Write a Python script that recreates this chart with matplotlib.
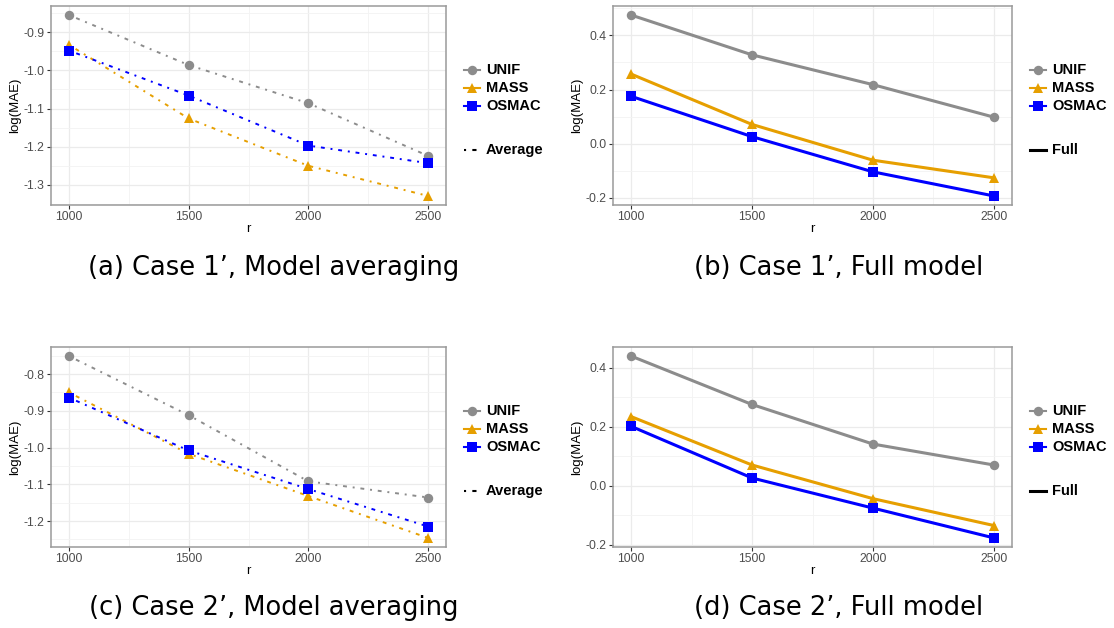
import matplotlib
matplotlib.use("Agg")
import matplotlib.pyplot as plt
from matplotlib.lines import Line2D

plt.rcParams['axes.unicode_minus'] = False
plt.rcParams['font.family'] = ['Liberation Sans', 'DejaVu Sans']

# sample sizes
r_vals = [1000, 1500, 2000, 2500]
metody = ["UNIF", "MASS", "OSMAC"]

# log(MAE), Case 1', model averaging
c1_avg_unif = [-0.855, -0.986, -1.086, -1.224]
c1_avg_mass = [-0.933, -1.126, -1.250, -1.329]
c1_avg_osmac = [-0.948, -1.066, -1.197, -1.243]

# log(MAE), Case 1', full model
c1_full_unif = [0.475, 0.328, 0.218, 0.098]
c1_full_mass = [0.257, 0.071, -0.061, -0.126]
c1_full_osmac = [0.175, 0.026, -0.104, -0.193]

# log(MAE), Case 2', model averaging
c2_avg_unif = [-0.751, -0.912, -1.092, -1.136]
c2_avg_mass = [-0.850, -1.017, -1.132, -1.246]
c2_avg_osmac = [-0.864, -1.008, -1.113, -1.215]

# log(MAE), Case 2', full model
c2_full_unif = [0.440, 0.276, 0.142, 0.071]
c2_full_mass = [0.235, 0.071, -0.043, -0.134]
c2_full_osmac = [0.202, 0.027, -0.075, -0.176]

podpisy = ["(a) Case 1\u2019, Model averaging", "(b) Case 1\u2019, Full model",
           "(c) Case 2\u2019, Model averaging", "(d) Case 2\u2019, Full model"]

yticks_avg1 = [-0.9, -1.0, -1.1, -1.2, -1.3]
yticks_avg2 = [-0.8, -0.9, -1.0, -1.1, -1.2]
yticks_full = [0.4, 0.2, 0.0, -0.2]

kolory = {"UNIF": "#8c8c8c", "MASS": "#E69F00", "OSMAC": "#0000FF"}
markery = {"UNIF": "o", "MASS": "^", "OSMAC": "s"}
rozmiary = {"UNIF": 6.8, "MASS": 7.8, "OSMAC": 6.8}
DOTDASH = (0, (1, 3, 2, 3))

W, H = 1114, 628
fig = plt.figure(figsize=(W / 100, H / 100), dpi=100)


def prostokat(l, r, t, b):
    return [l / W, 1 - b / H, (r - l) / W, (b - t) / H]


def rysuj_panel(rect, serie, yticks, srednia, podpis, podpis_xy):
    ax = fig.add_axes(prostokat(*rect))
    lw = 1.4 if srednia else 2.2
    ls = DOTDASH if srednia else "-"
    wszystkie = []
    for nazwa, y in zip(metody, serie):
        ax.plot(r_vals, y, color=kolory[nazwa], lw=lw, linestyle=ls,
                marker=markery[nazwa], markersize=rozmiary[nazwa],
                markeredgewidth=0, zorder=3)
        wszystkie += y

    # zakres osi y z 5% marginesem jak w ggplot
    lo, hi = min(wszystkie), max(wszystkie)
    pad = (hi - lo) * 0.05
    ax.set_xlim(925, 2575)
    ax.set_xticks(r_vals)
    ax.set_xticks([1250, 1750, 2250], minor=True)
    ax.set_yticks(yticks)
    ax.set_yticklabels([f"{v:.1f}" for v in yticks])
    krok = abs(yticks[1] - yticks[0])
    ax.set_yticks([v + krok / 2 for v in yticks] + [min(yticks) - krok / 2], minor=True)
    ax.set_ylim(lo - pad, hi + pad)

    ax.grid(which="major", color="#ebebeb", lw=0.9, zorder=0)
    ax.grid(which="minor", color="#f3f3f3", lw=0.6, zorder=0)
    ax.set_axisbelow(True)
    for s in ax.spines.values():
        s.set_color("#9a9a9a")
        s.set_linewidth(1.1)
    ax.tick_params(which="major", length=3, width=0.8, color="#333333",
                   labelsize=8.8, labelcolor="#4d4d4d", pad=1.5)
    ax.tick_params(which="minor", length=0)
    ax.set_xlabel("r", fontsize=9.5, labelpad=0)
    ax.set_ylabel("log(MAE)", fontsize=9.5, labelpad=2)

    # legenda po prawej stronie
    prawa, gora = rect[1], rect[2]
    wiersze = [gora + 64, gora + 82, gora + 100]
    for nazwa, yy in zip(metody, wiersze):
        fig.add_artist(Line2D([(prawa + 18) / W, (prawa + 34) / W], [1 - yy / H] * 2,
                              color=kolory[nazwa], lw=1.5))
        fig.add_artist(Line2D([(prawa + 26) / W], [1 - yy / H], color=kolory[nazwa],
                              marker=markery[nazwa], markersize=rozmiary[nazwa],
                              markeredgewidth=0))
        fig.text((prawa + 40) / W, 1 - yy / H, nazwa, fontsize=10.5,
                 fontweight="bold", va="center", ha="left")
    yy = gora + 144
    fig.add_artist(Line2D([(prawa + 18) / W, (prawa + 34) / W], [1 - yy / H] * 2,
                          color="black", lw=1.5 if srednia else 2.2,
                          linestyle=DOTDASH if srednia else "-"))
    fig.text((prawa + 40) / W, 1 - yy / H, "Average" if srednia else "Full",
             fontsize=10.5, fontweight="bold", va="center", ha="left")

    fig.text(podpis_xy[0] / W, 1 - podpis_xy[1] / H, podpis, fontsize=18.5,
             ha="center", va="center", family=["DejaVu Sans"])
    return ax


rysuj_panel((51, 446, 6, 205), [c1_avg_unif, c1_avg_mass, c1_avg_osmac],
            yticks_avg1, True, podpisy[0], (274, 268))
rysuj_panel((613, 1012, 6, 205), [c1_full_unif, c1_full_mass, c1_full_osmac],
            yticks_full, False, podpisy[1], (839, 268))
rysuj_panel((51, 446, 347, 547), [c2_avg_unif, c2_avg_mass, c2_avg_osmac],
            yticks_avg2, True, podpisy[2], (274, 608))
rysuj_panel((613, 1012, 347, 547), [c2_full_unif, c2_full_mass, c2_full_osmac],
            yticks_full, False, podpisy[3], (839, 608))

fig.savefig("out.png", dpi=100)
